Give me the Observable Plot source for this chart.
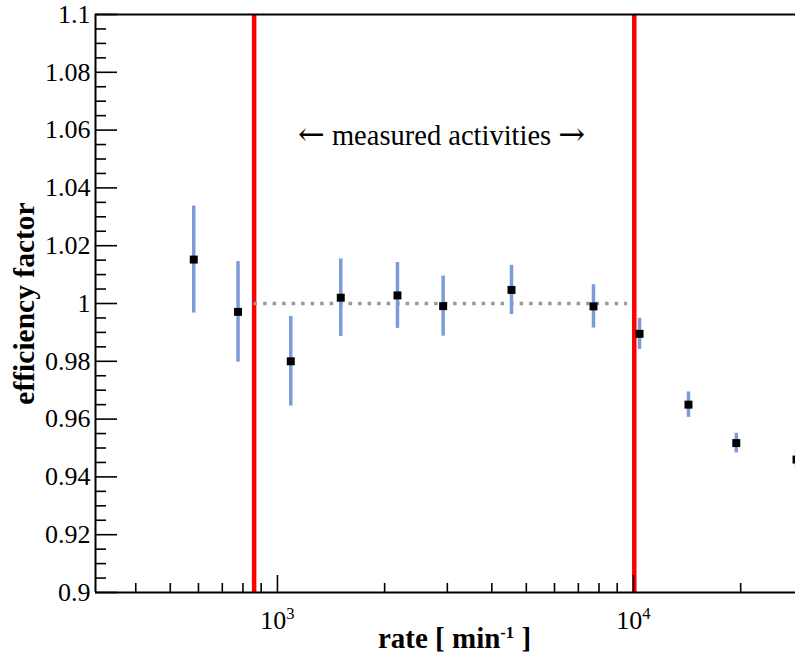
<!DOCTYPE html>
<html><head><meta charset="utf-8">
<script src="https://cdn.jsdelivr.net/npm/d3@7"></script>
<script src="https://cdn.jsdelivr.net/npm/@observablehq/plot@0.6"></script>
<style>html,body{margin:0;padding:0;background:#fff;overflow:hidden}
svg text{font-family:'Liberation Serif','Times New Roman',serif}</style>
</head><body><div id="chart"></div>
<script>
// data
const rate        = [582, 775, 1090, 1506, 2173, 2920, 4543, 7720, 10400, 14270, 19440, 28700];
const efficiency  = [1.0152, 0.9971, 0.9800, 1.0020, 1.0028, 0.9991, 1.0047, 0.9990, 0.9895, 0.9650, 0.9517, 0.9460];
const uncertainty = [0.0185, 0.0174, 0.0155, 0.0134, 0.0114, 0.0104, 0.0085, 0.0075, 0.0054, 0.0044, 0.0034, 0.0030];
const windowEdges = [860, 10050];
const referenceLevel = [{y: 1, x1: 860, x2: 9620}];
const annotation = [{text: "← measured activities →", x: 2890, y: 1.058}];
const yTitle = ["efficiency factor"];
const xTitle = ["rate [ min^-1 ]"];

// axes
const xDomain = [308.3, 28510];
const yDomain = [0.9, 1.1];
const yMajorTicks = [0.9, 0.92, 0.94, 0.96, 0.98, 1.0, 1.02, 1.04, 1.06, 1.08, 1.1];
const yTickLabels = ["0.9", "0.92", "0.94", "0.96", "0.98", "1", "1.02", "1.04", "1.06", "1.08", "1.1"];
const yMinorTicks = [0.905,0.91,0.915,0.925,0.93,0.935,0.945,0.95,0.955,0.965,0.97,0.975,0.985,0.99,0.995,
                     1.005,1.01,1.015,1.025,1.03,1.035,1.045,1.05,1.055,1.065,1.07,1.075,1.085,1.09,1.095];
const xMajorTicks = [1000, 10000];
const xTickLabels = ["10^3", "10^4"];
const xMinorTicks = [400, 500, 600, 700, 800, 900, 2000, 3000, 4000, 5000, 6000, 7000, 8000, 9000, 20000];

const points = rate.map((r, i) => ({rate: r, eff: efficiency[i], err: uncertainty[i]}));
const yLabels = yMajorTicks.map((v, i) => ({v, label: yTickLabels[i]}));
const xLabels = xMajorTicks.map((v, i) => ({v, label: xTickLabels[i]}));

const SERIF = "'Liberation Serif', 'Times New Roman', serif";
const W = 795, H = 652, ML = 95, MR = 0, MT = 14, MB = 60;
const PW = W - ML - MR, PH = H - MT - MB;

const chart = Plot.plot({
  width: W, height: H,
  marginLeft: ML, marginRight: MR, marginTop: MT, marginBottom: MB,
  x: {type: "log", domain: xDomain, axis: null},
  y: {domain: yDomain, axis: null},
  style: {fontFamily: SERIF, fontSize: "26px", color: "black", background: "white"},
  marks: [
    Plot.ruleX(windowEdges, {x: d => d, stroke: "#ff0000", strokeWidth: 4.5}),
    Plot.ruleY(referenceLevel, {y: "y", x1: "x1", x2: "x2", stroke: "#999999", strokeWidth: 3.5, strokeDasharray: "3.5,6"}),
    Plot.ruleX(points, {x: "rate", y1: d => d.eff - d.err, y2: d => d.eff + d.err, stroke: "#7b9bd9", strokeWidth: 3.5}),
    Plot.dot(points, {x: "rate", y: "eff", symbol: "square", r: 4.5, fill: "black"}),
    Plot.tickY(yMajorTicks, {y: d => d, insetRight: PW - 22, stroke: "black", strokeWidth: 1.6}),
    Plot.tickY(yMinorTicks, {y: d => d, insetRight: PW - 11, stroke: "black", strokeWidth: 1.6}),
    Plot.tickX(xMajorTicks, {x: d => d, insetTop: PH - 17, stroke: "black", strokeWidth: 1.6}),
    Plot.tickX(xMinorTicks, {x: d => d, insetTop: PH - 9, stroke: "black", strokeWidth: 1.6}),
    Plot.ruleY([yDomain[1], yDomain[0]], {y: d => d, stroke: "black", strokeWidth: 2}),
    Plot.ruleX([xDomain[0]], {x: d => d, stroke: "black", strokeWidth: 2}),
    Plot.text(yLabels, {y: "v", text: "label", frameAnchor: "left", dx: -5, textAnchor: "end", lineAnchor: "middle", fontSize: 26, fill: "black"}),
    Plot.text(xLabels, {x: "v", text: "label", frameAnchor: "bottom", dy: 36, textAnchor: "middle", lineAnchor: "bottom", fontSize: 26, fill: "black"}),
    Plot.text(annotation, {x: "x", y: "y", text: "text", fontSize: 28.5, textAnchor: "middle", lineAnchor: "middle", fill: "black"}),
    Plot.text(yTitle, {frameAnchor: "left", rotate: -90, dx: -62, textAnchor: "middle", lineAnchor: "bottom", fontWeight: "bold", fontSize: 29.5, fill: "black"}),
    Plot.text(xTitle, {frameAnchor: "bottom", dx: 9, dy: 55, textAnchor: "middle", lineAnchor: "bottom", fontWeight: "bold", fontSize: 29, fill: "black"})
  ]
});

const sel = d3.select(chart);
sel.selectAll("text").style("font-family", SERIF);
// superscripts: "a^b rest"
sel.selectAll("text").each(function() {
  const t = this.textContent;
  const m = t.match(/^(.*?)\^(\S+)(.*)$/);
  if (!m) return;
  const fs = parseFloat(getComputedStyle(this).fontSize) || 26;
  const s = d3.select(this);
  s.text(null);
  s.append("tspan").text(m[1]);
  s.append("tspan").attr("font-size", (fs * 0.64).toFixed(1)).attr("dy", (-fs * 0.38).toFixed(1)).text(m[2]);
  if (m[3]) s.append("tspan").attr("dy", (fs * 0.38).toFixed(1)).text(m[3]);
});
// arrows: use a font with full-width arrow glyphs
sel.selectAll("text").each(function() {
  const t = this.textContent;
  if (!/[←→]/.test(t)) return;
  const s = d3.select(this);
  s.text(null);
  t.split(/([←→])/).filter(p => p.length).forEach(p => {
    const ts = s.append("tspan").text(p);
    if (/[←→]/.test(p)) ts.style("font-family", "'DejaVu Serif', serif").attr("font-size", "32");
  });
});

document.getElementById("chart").appendChild(chart);
</script>
</body></html>
